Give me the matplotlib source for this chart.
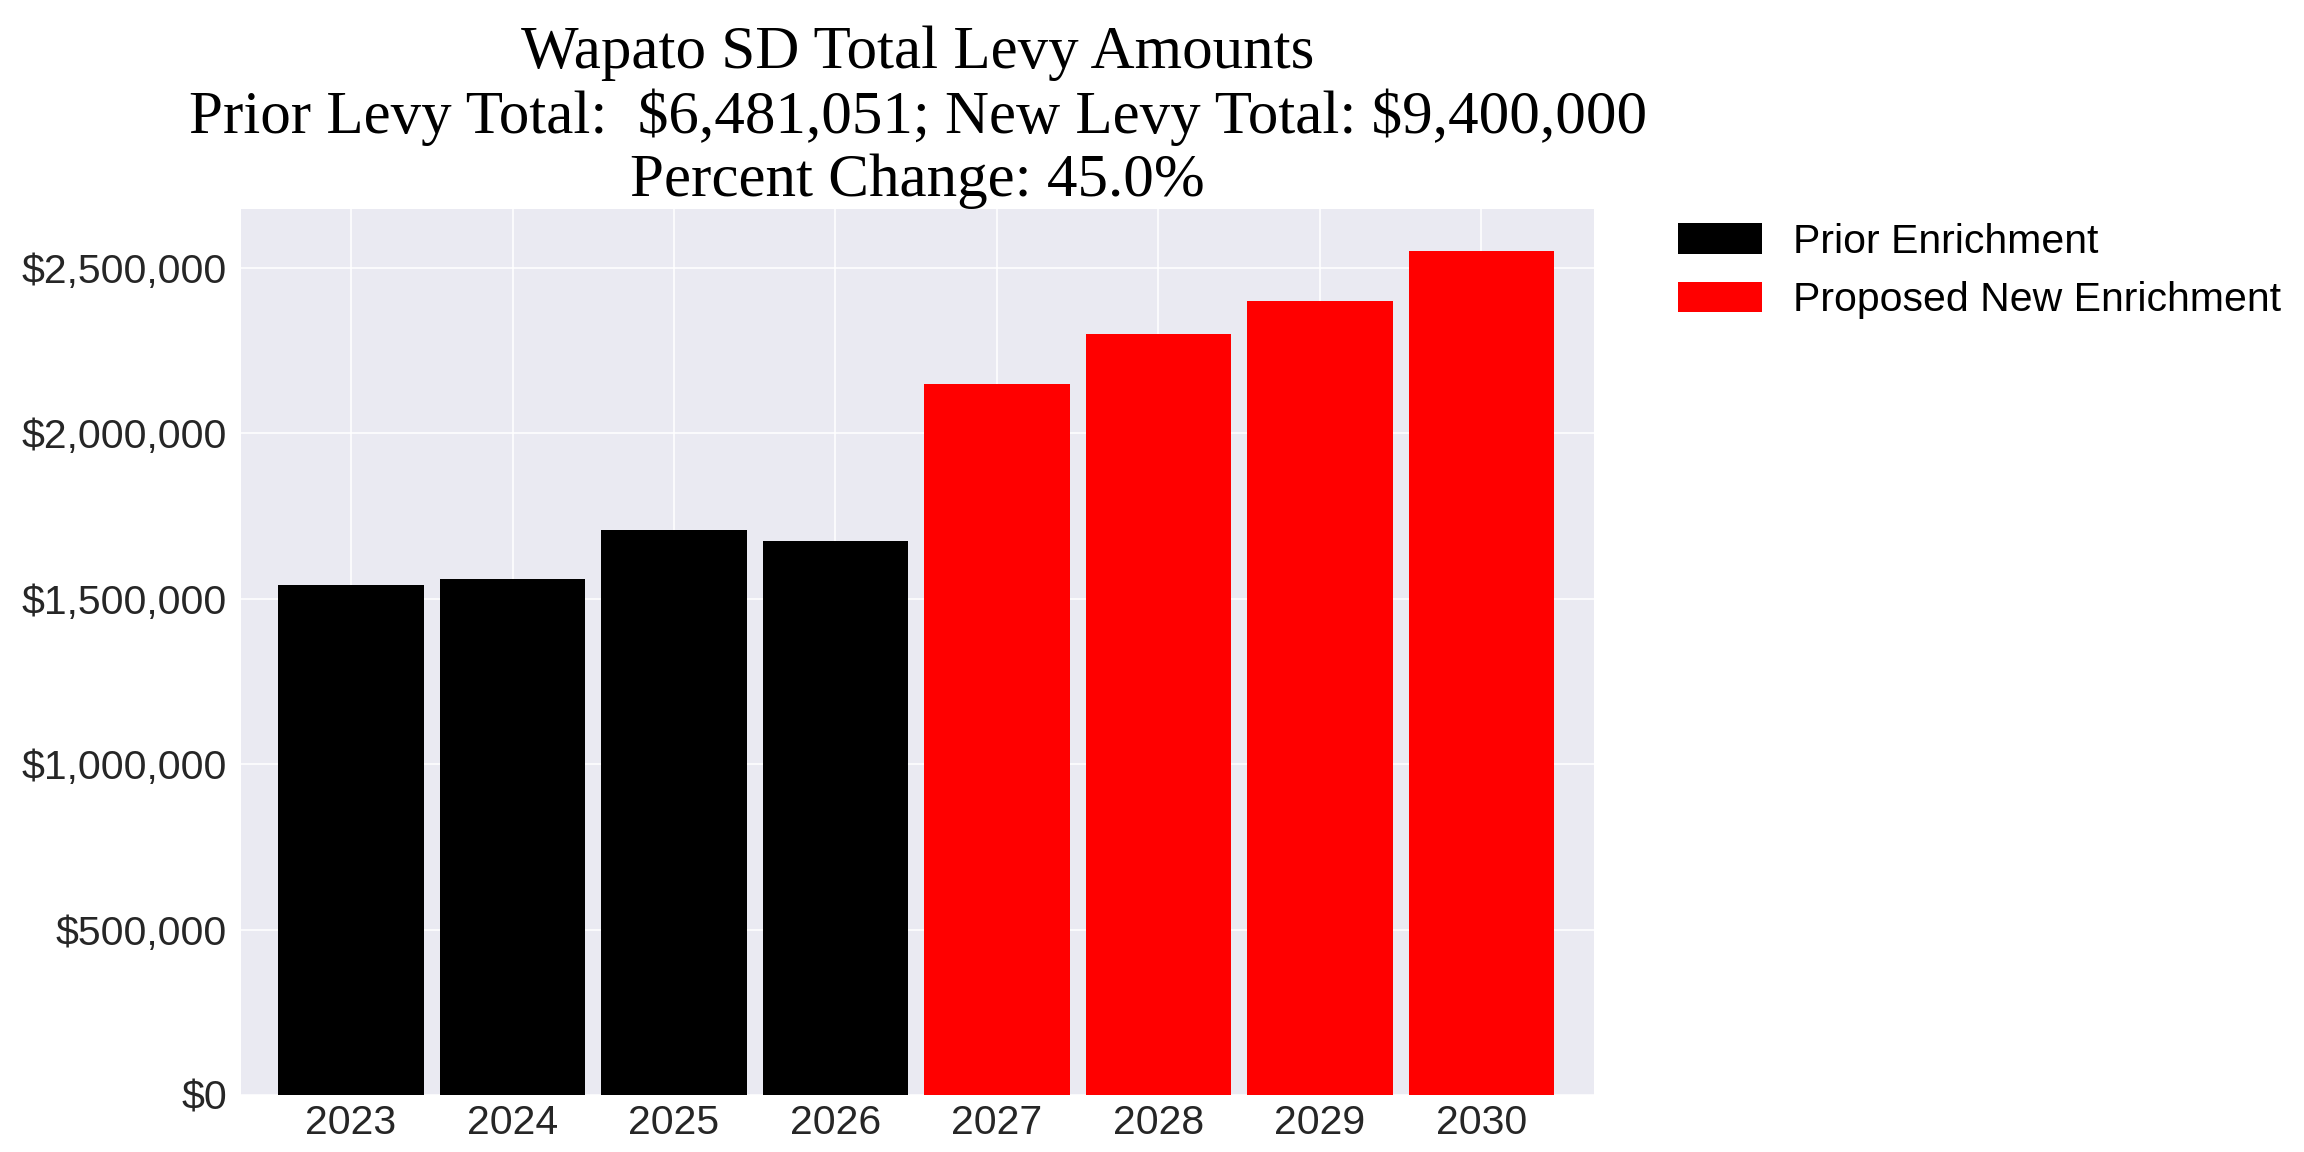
import matplotlib
matplotlib.use("Agg")
import matplotlib.pyplot as plt
from matplotlib.ticker import FuncFormatter
from matplotlib.patches import Patch

years = [2023, 2024, 2025, 2026, 2027, 2028, 2029, 2030]
prior_years = [2023, 2024, 2025, 2026]
prior_values = [1540000, 1558000, 1708000, 1675051]
new_years = [2027, 2028, 2029, 2030]
new_values = [2150000, 2300000, 2400000, 2550000]
legend_labels = ["Prior Enrichment", "Proposed New Enrichment"]
title = ("Wapato SD Total Levy Amounts\n"
         "Prior Levy Total:  \\$6,481,051; New Levy Total: \\$9,400,000\n"
         "Percent Change: 45.0%")

plt.style.use("seaborn-v0_8-darkgrid")
plt.rcParams['font.family'] = ['Liberation Sans', 'DejaVu Sans']

fig = plt.figure(figsize=(16, 8), dpi=144)
ax = fig.add_axes([0.1047, 0.0495, 0.5873, 0.7691])
ax.bar(prior_years, prior_values, width=0.9, color="black")
ax.bar(new_years, new_values, width=0.9, color="red")
ax.set_xlim(2022.32, 2030.70)
ax.set_ylim(0, 2677500)
ax.set_xticks(years)
ax.set_yticks([0, 500000, 1000000, 1500000, 2000000, 2500000])
ax.yaxis.set_major_formatter(FuncFormatter(lambda v, p: "${:,.0f}".format(v)))
ax.tick_params(labelsize=20.5, colors="#262626")
ax.tick_params(axis="y", pad=7)
ax.tick_params(axis="x", pad=4.5)
ax.set_title(title, fontsize=30.5, family=['Liberation Serif'], color="black",
             linespacing=1.17, pad=6)

handles = [Patch(color="black"), Patch(color="red")]
ax.legend(handles, legend_labels, loc="upper left", bbox_to_anchor=(1.035, 1.026),
          fontsize=20.5, frameon=False, handlelength=2.0, handleheight=0.7,
          labelcolor="black")

fig.savefig("out.png", dpi=144)
